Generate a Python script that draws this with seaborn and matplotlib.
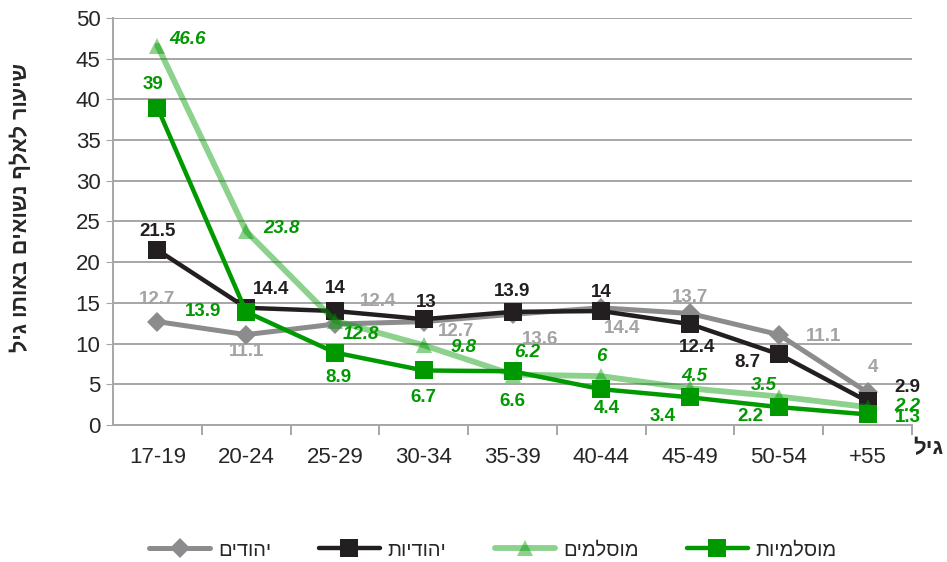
import numpy as np
import pandas as pd
import matplotlib
matplotlib.use("Agg")
import matplotlib.pyplot as plt
import seaborn as sns
from matplotlib.ticker import FixedLocator

# Data
ages = ['17-19', '20-24', '25-29', '30-34', '35-39', '40-44', '45-49', '50-54', '+55']
jews_m = [12.7, 11.1, 12.4, 12.7, 13.6, 14.4, 13.7, 11.1, 4]
jews_f = [21.5, 14.4, 14, 13, 13.9, 14, 12.4, 8.7, 2.9]
muslims_m = [46.6, 23.8, 12.8, 9.8, 6.2, 6, 4.5, 3.5, 2.2]
muslims_f = [39, 13.9, 8.9, 6.7, 6.6, 4.4, 3.4, 2.2, 1.3]
names = ['יהודים', 'יהודיות', 'מוסלמים', 'מוסלמיות']


def heb(s):
    # matplotlib has no bidi support, so flip Hebrew text for display
    return s[::-1]


sns.set_style("white")
plt.rcParams['font.family'] = ['Liberation Sans', 'DejaVu Sans']

fig = plt.figure(figsize=(9.47, 5.62), dpi=100)
ax = fig.add_axes([113 / 947, 1 - 425 / 562, (912 - 113) / 947, (425 - 18) / 562])

series = [jews_m, jews_f, muslims_m, muslims_f]
styles = [
    dict(color='#8c8c8e', marker='D', markersize=10, linewidth=3.6),
    dict(color='#231f20', marker='s', markersize=12.5, linewidth=3.2),
    dict(color='#009900', marker='^', markersize=12, linewidth=4.2, alpha=0.45),
    dict(color='#009900', marker='s', markersize=12.5, linewidth=3.2),
]
for vals, name, st in zip(series, names, styles):
    df = pd.DataFrame({'age': ages, 'value': vals})
    sns.lineplot(data=df, x='age', y='value', sort=False, ax=ax, label=heb(name),
                 markeredgewidth=0, **st)

# label offsets in pixels (dx, dy) for each point
offs = [
    [(0, 22), (0, -17), (43, 23), (32, -10), (28, -25), (21, -21), (0, 16), (45, -2), (5, 25)],
    [(0, 18), (25, 18), (0, 23), (3, 17), (0, 20), (0, 19), (7, -23), (-31, -8), (40, 14)],
    [(30, 6), (35, 3), (26, -14), (40, -2), (15, 22), (0, 20), (4, 12), (-15, 11), (40, 1)],
    [(-4, 23), (-43, 0), (3, -25), (0, -27), (0, -30), (5, -19), (-27, -19), (-28, -9), (40, -3)],
]
lab_colors = ['#a3a3a5', '#231f20', '#009900', '#009900']
lab_style = ['normal', 'normal', 'italic', 'normal']
for vals, off, c, fst in zip(series, offs, lab_colors, lab_style):
    for i, v in enumerate(vals):
        ax.annotate(f"{v:g}", (i, v), xytext=off[i], textcoords='offset pixels',
                    ha='center', va='center', fontsize=13.5, fontweight='bold',
                    color=c, fontstyle=fst, zorder=10)

ax.set_xlim(-0.5, len(ages) - 0.5)
ax.set_ylim(0, 50)
ax.set_yticks(np.arange(0, 51, 5))
ax.yaxis.grid(True, color='#a6a6a6', linewidth=1.4)
ax.set_axisbelow(True)
for s in ['top', 'right']:
    ax.spines[s].set_visible(False)
for s in ['left', 'bottom']:
    ax.spines[s].set_color('#a6a6a6')
    ax.spines[s].set_linewidth(1.4)
ax.tick_params(axis='y', which='major', length=5, color='#a6a6a6', labelsize=16,
               labelcolor='#262626', pad=4, left=True)
ax.tick_params(axis='x', which='major', length=0, labelsize=16, labelcolor='#262626', pad=16)
ax.xaxis.set_minor_locator(FixedLocator(np.arange(0.5, len(ages), 1)))
ax.tick_params(axis='x', which='minor', length=7, color='#a6a6a6', width=1.4, bottom=True)
ax.set_xlabel('')
ax.set_ylabel('')

fig.text(21 / 947, 1 - 208 / 562, heb('שיעור לאלף נשואים באותו גיל'), rotation=90,
         ha='center', va='center', fontsize=15.5, fontweight='bold', color='#262626')
fig.text(928 / 947, 1 - 449 / 562, heb('גיל'), ha='center', va='center',
         fontsize=16, fontweight='bold', color='#262626')

ax.legend(loc='center', bbox_to_anchor=(493 / 947, 1 - 550 / 562),
          bbox_transform=fig.transFigure, ncol=4, frameon=False, fontsize=14.5,
          handlelength=3.0, columnspacing=2.4, handletextpad=0.4)

fig.savefig('out.png', dpi=100)
